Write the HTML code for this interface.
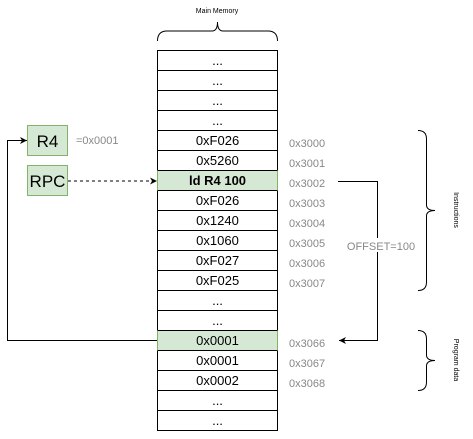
<!DOCTYPE html>
<html><head><style>
html,body{margin:0;padding:0;background:#fff;}
svg{display:block;font-family:"Liberation Sans",Helvetica,sans-serif;}
</style></head><body>
<svg width="473" height="439" viewBox="0 0 473 439" xmlns="http://www.w3.org/2000/svg">
<defs>
<marker id="a" markerWidth="8" markerHeight="8" refX="7" refY="4" orient="auto" markerUnits="userSpaceOnUse">
<path d="M0,0.5 L7,4 L0,7.5 L2,4 Z" fill="#000"/></marker>
</defs>
<text x="217" y="13" font-size="7" text-anchor="middle" fill="#000">Main Memory</text>
<path d="M157.5,41 Q157.5,31 167,31 L212,31 Q217.5,31 217.5,22 Q217.5,31 223,31 L268,31 Q277.5,31 277.5,41" fill="none" stroke="#000" stroke-width="1"/>
<g stroke="#000" stroke-width="1">
<rect x="157.5" y="50.5" width="120" height="380" fill="#fff"/>
<rect x="157.5" y="170.5" width="120" height="20" fill="#d5e8d4" stroke="#82b366"/>
<rect x="157.5" y="330.5" width="120" height="20" fill="#d5e8d4" stroke="#82b366"/>
<path d="M157.5,70.5h120M157.5,90.5h120M157.5,110.5h120M157.5,130.5h120M157.5,150.5h120M157.5,170.5h120M157.5,190.5h120M157.5,210.5h120M157.5,230.5h120M157.5,250.5h120M157.5,270.5h120M157.5,290.5h120M157.5,310.5h120M157.5,330.5h120M157.5,350.5h120M157.5,370.5h120M157.5,390.5h120M157.5,410.5h120"/>
</g>
<g font-size="13" text-anchor="middle" fill="#000">
<text x="217.5" y="65">...</text><text x="217.5" y="85">...</text><text x="217.5" y="105">...</text><text x="217.5" y="125">...</text>
<text x="217.5" y="145">0xF026</text><text x="217.5" y="165">0x5260</text>
<text x="217.5" y="185" font-weight="bold">ld R4 100</text>
<text x="217.5" y="205">0xF026</text><text x="217.5" y="225">0x1240</text><text x="217.5" y="245">0x1060</text>
<text x="217.5" y="265">0xF027</text><text x="217.5" y="285">0xF025</text>
<text x="217.5" y="305">...</text><text x="217.5" y="325">...</text>
<text x="217.5" y="345">0x0001</text><text x="217.5" y="365">0x0001</text><text x="217.5" y="385">0x0002</text>
<text x="217.5" y="405">...</text><text x="217.5" y="425">...</text>
</g>
<g font-size="11" fill="#888">
<text x="289" y="147">0x3000</text><text x="289" y="167">0x3001</text><text x="289" y="187">0x3002</text>
<text x="289" y="207">0x3003</text><text x="289" y="227">0x3004</text><text x="289" y="247">0x3005</text>
<text x="289" y="267">0x3006</text><text x="289" y="287">0x3007</text>
<text x="289" y="347">0x3066</text><text x="289" y="367">0x3067</text><text x="289" y="387">0x3068</text>
<text x="76" y="144">=0x0001</text>
</g>
<rect x="27.5" y="125.5" width="40" height="30" fill="#d5e8d4" stroke="#82b366"/>
<rect x="27.5" y="165.5" width="40" height="30" fill="#d5e8d4" stroke="#82b366"/>
<text x="47.5" y="147" font-size="17" text-anchor="middle">R4</text>
<text x="47.5" y="187" font-size="17" text-anchor="middle">RPC</text>
<path d="M68,181 L157,181" stroke="#000" stroke-dasharray="3,3" fill="none" marker-end="url(#a)"/>
<path d="M157,340.5 L7.5,340.5 L7.5,140.5 L27,140.5" stroke="#000" fill="none" marker-end="url(#a)"/>
<path d="M338,181.5 L377.5,181.5 L377.5,340.5 L339,340.5" stroke="#000" fill="none" marker-end="url(#a)"/>
<rect x="346" y="238" width="70" height="14" fill="#fff"/>
<text x="381" y="250" font-size="11" fill="#888" text-anchor="middle">OFFSET=100</text>
<path d="M418,130.5 Q426.5,130.5 426.5,139 L426.5,205 Q426.5,210.5 435,210.5 Q426.5,210.5 426.5,216 L426.5,282 Q426.5,290.5 418,290.5" fill="none" stroke="#000"/>
<path d="M418,330.5 Q426.5,330.5 426.5,339 L426.5,355 Q426.5,360.5 435,360.5 Q426.5,360.5 426.5,366 L426.5,382 Q426.5,390.5 418,390.5" fill="none" stroke="#000"/>
<text transform="translate(454,210) rotate(90)" font-size="7" text-anchor="middle">Instructions</text>
<text transform="translate(454,360) rotate(90)" font-size="7" text-anchor="middle">Program data</text>
</svg>
</body></html>
